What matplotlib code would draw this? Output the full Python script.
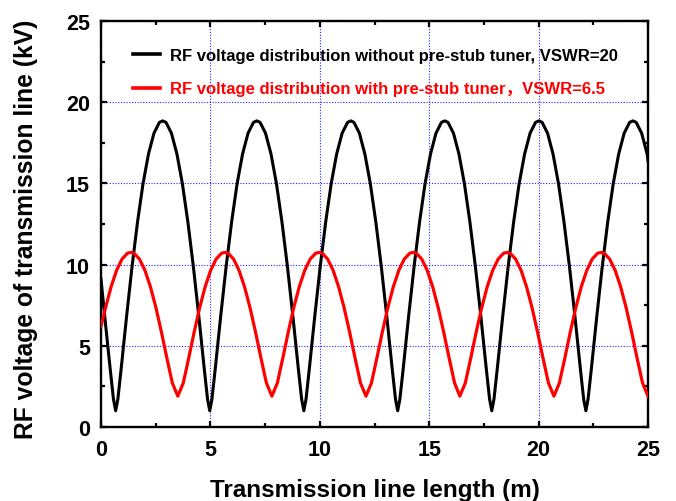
import matplotlib
matplotlib.use("Agg")
import matplotlib.pyplot as plt
from matplotlib.ticker import MultipleLocator

plt.rcParams['font.family'] = ['Liberation Sans', 'Noto Sans CJK SC', 'DejaVu Sans']
plt.rcParams['font.weight'] = 'bold'

# Black curve: without pre-stub tuner (VSWR=20)
x_black = [0.00, 0.17, 0.42, 0.57,
           0.67, 0.77, 0.92, 1.17, 1.42, 1.67, 1.92, 2.17, 2.42, 2.67, 2.82, 2.97, 3.22, 3.47, 3.72, 3.97, 4.22, 4.47, 4.72, 4.87,
           4.97, 5.07, 5.22, 5.47, 5.72, 5.97, 6.22, 6.47, 6.72, 6.97, 7.12, 7.27, 7.52, 7.77, 8.02, 8.27, 8.52, 8.77, 9.02, 9.17,
           9.27, 9.37, 9.52, 9.77, 10.02, 10.27, 10.52, 10.77, 11.02, 11.27, 11.42, 11.56, 11.81, 12.06, 12.31, 12.56, 12.81, 13.06, 13.31, 13.46,
           13.56, 13.66, 13.81, 14.06, 14.31, 14.56, 14.81, 15.06, 15.31, 15.56, 15.71, 15.86, 16.11, 16.36, 16.61, 16.86, 17.11, 17.36, 17.61, 17.76,
           17.86, 17.96, 18.11, 18.36, 18.61, 18.86, 19.11, 19.36, 19.61, 19.86, 20.01, 20.16, 20.41, 20.66, 20.91, 21.16, 21.41, 21.66, 21.91, 22.06,
           22.16, 22.26, 22.41, 22.66, 22.91, 23.16, 23.41, 23.66, 23.91, 24.16, 24.31, 24.46, 24.71, 24.96, 25.00]
v_black = [9.1, 6.82, 3.57, 1.71,
           1.0, 1.71, 3.57, 6.82, 9.89, 12.63, 14.98, 16.81, 18.09, 18.76, 18.85, 18.76, 18.09, 16.81, 14.98, 12.63, 9.89, 6.82, 3.57, 1.71,
           1.0, 1.71, 3.57, 6.82, 9.89, 12.63, 14.98, 16.81, 18.09, 18.76, 18.85, 18.76, 18.09, 16.81, 14.98, 12.63, 9.89, 6.82, 3.57, 1.71,
           1.0, 1.71, 3.57, 6.82, 9.89, 12.63, 14.98, 16.81, 18.09, 18.76, 18.85, 18.76, 18.09, 16.81, 14.98, 12.63, 9.89, 6.82, 3.57, 1.71,
           1.0, 1.71, 3.57, 6.82, 9.89, 12.63, 14.98, 16.81, 18.09, 18.76, 18.85, 18.76, 18.09, 16.81, 14.98, 12.63, 9.89, 6.82, 3.57, 1.71,
           1.0, 1.71, 3.57, 6.82, 9.89, 12.63, 14.98, 16.81, 18.09, 18.76, 18.85, 18.76, 18.09, 16.81, 14.98, 12.63, 9.89, 6.82, 3.57, 1.71,
           1.0, 1.71, 3.57, 6.82, 9.89, 12.63, 14.98, 16.81, 18.09, 18.76, 18.85, 18.76, 18.09, 16.81, 16.4]

# Red curve: with pre-stub tuner (VSWR=6.5)
x_red = [0.00, 0.21, 0.46, 0.71, 0.96, 1.21, 1.36, 1.51, 1.76, 2.01, 2.26, 2.51, 2.76, 3.01, 3.26,
         3.51, 3.76, 4.01, 4.26, 4.51, 4.76, 5.01, 5.26, 5.51, 5.66, 5.81, 6.06, 6.31, 6.56, 6.81, 7.06, 7.31, 7.56,
         7.81, 8.06, 8.31, 8.56, 8.81, 9.06, 9.31, 9.56, 9.81, 9.96, 10.11, 10.36, 10.61, 10.86, 11.11, 11.36, 11.61, 11.86,
         12.11, 12.36, 12.61, 12.86, 13.11, 13.36, 13.61, 13.86, 14.11, 14.26, 14.41, 14.66, 14.91, 15.16, 15.41, 15.66, 15.91, 16.16,
         16.40, 16.65, 16.90, 17.15, 17.40, 17.65, 17.90, 18.15, 18.40, 18.55, 18.70, 18.95, 19.20, 19.45, 19.70, 19.95, 20.20, 20.45,
         20.70, 20.95, 21.20, 21.45, 21.70, 21.95, 22.20, 22.45, 22.70, 22.85, 23.00, 23.25, 23.50, 23.75, 24.00, 24.25, 24.50, 24.75,
         25.00]
v_red = [6.2, 7.35, 8.63, 9.64, 10.34, 10.70, 10.75, 10.70, 10.34, 9.64, 8.63, 7.35, 5.86, 4.25, 2.71,
         1.9, 2.71, 4.25, 5.86, 7.35, 8.63, 9.64, 10.34, 10.70, 10.75, 10.70, 10.34, 9.64, 8.63, 7.35, 5.86, 4.25, 2.71,
         1.9, 2.71, 4.25, 5.86, 7.35, 8.63, 9.64, 10.34, 10.70, 10.75, 10.70, 10.34, 9.64, 8.63, 7.35, 5.86, 4.25, 2.71,
         1.9, 2.71, 4.25, 5.86, 7.35, 8.63, 9.64, 10.34, 10.70, 10.75, 10.70, 10.34, 9.64, 8.63, 7.35, 5.86, 4.25, 2.71,
         1.9, 2.71, 4.25, 5.86, 7.35, 8.63, 9.64, 10.34, 10.70, 10.75, 10.70, 10.34, 9.64, 8.63, 7.35, 5.86, 4.25, 2.71,
         1.9, 2.71, 4.25, 5.86, 7.35, 8.63, 9.64, 10.34, 10.70, 10.75, 10.70, 10.34, 9.64, 8.63, 7.35, 5.86, 4.25, 2.71,
         1.9]

label_black = "RF voltage distribution without pre-stub tuner, VSWR=20"
label_red = "RF voltage distribution with pre-stub tuner\uff0cVSWR=6.5"
xlabel = "Transmission line length (m)"
ylabel = "RF voltage of transmission line (kV)"
x_ticks = [0, 5, 10, 15, 20, 25]
y_ticks = [0, 5, 10, 15, 20, 25]

fig = plt.figure(figsize=(6.76, 5.02), dpi=100)
ax = fig.add_axes([101/676, 1-428/502, 547/676, 406/502])

ax.plot(x_black, v_black, color='black', lw=2.2, label=label_black, zorder=3)
ax.plot(x_red, v_red, color='#ff0000', lw=2.3, label=label_red, zorder=3)

ax.set_xlim(0, 25)
ax.set_ylim(0, 25)
ax.set_xticks(x_ticks)
ax.set_yticks(y_ticks)
ax.xaxis.set_minor_locator(MultipleLocator(2.5))
ax.yaxis.set_minor_locator(MultipleLocator(2.5))
ax.tick_params(which='both', direction='in', top=True, right=True, width=1.6)
ax.tick_params(which='major', length=4, labelsize=15.5)
ax.tick_params(axis='x', which='major', pad=9)
ax.tick_params(axis='y', which='major', pad=8)
ax.tick_params(which='minor', length=3)
for t in ax.get_xticklabels() + ax.get_yticklabels():
    t.set_fontweight('bold')
for s in ax.spines.values():
    s.set_linewidth(1.7)

ax.grid(True, which='major', color='#2222ff', linestyle=(0, (1, 1.5)), linewidth=0.8, zorder=1)
ax.set_axisbelow(True)

ax.set_xlabel(xlabel, fontsize=17.5, fontweight='bold')
ax.set_ylabel(ylabel, fontsize=17.7, fontweight='bold')
ax.xaxis.set_label_coords(0.5, (428-479)/406)
ax.yaxis.set_label_coords((38-101)/547, 0.49)

leg = ax.legend(loc='upper left', bbox_to_anchor=((133-101)/547, (428-49)/406),
                frameon=False, handlelength=1.6, handletextpad=0.6,
                labelspacing=1.1, borderpad=0, borderaxespad=0,
                prop={'weight': 'bold', 'size': 12})
leg.get_texts()[1].set_color('#ff0000')
for h in leg.get_lines():
    h.set_linewidth(2.6)

fig.savefig("out.png", dpi=100)
